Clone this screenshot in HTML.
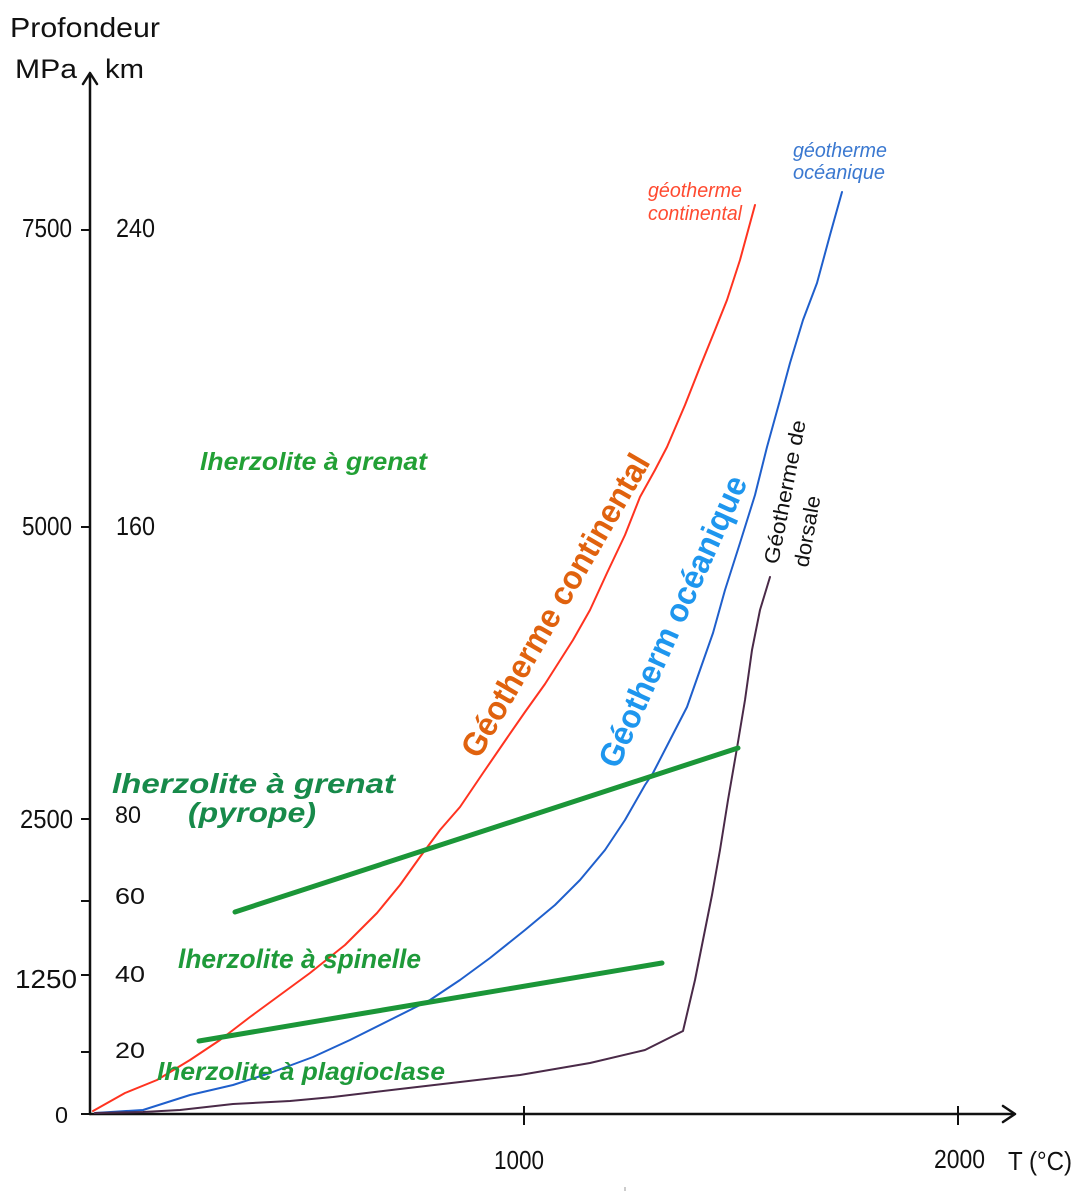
<!DOCTYPE html>
<html><head><meta charset="utf-8">
<style>
html,body{margin:0;padding:0;background:#fff;}
svg{display:block;}
text{font-family:"Liberation Sans",Arial,sans-serif;}
</style></head>
<body>
<svg width="1085" height="1200" viewBox="0 0 1085 1200" xmlns="http://www.w3.org/2000/svg">
<rect width="1085" height="1200" fill="#fff"/>

<!-- axes -->
<g stroke="#111" stroke-width="2.5" fill="none" stroke-linecap="round" stroke-linejoin="round">
  <line x1="90" y1="1114" x2="90" y2="74"/>
  <polyline points="83,84 90,73 97,84"/>
  <line x1="90" y1="1114" x2="1014" y2="1114"/>
  <polyline points="1003,1106 1015,1114 1003,1122"/>
</g>
<g stroke="#111" stroke-width="2" fill="none">
  <line x1="81" y1="230" x2="90" y2="230"/>
  <line x1="81" y1="527" x2="90" y2="527"/>
  <line x1="81" y1="819" x2="90" y2="819"/>
  <line x1="81" y1="901" x2="90" y2="901"/>
  <line x1="81" y1="975" x2="90" y2="975"/>
  <line x1="81" y1="1052" x2="90" y2="1052"/>
  <line x1="81" y1="1114" x2="90" y2="1114"/>
  <line x1="524" y1="1106" x2="524" y2="1125"/>
  <line x1="958" y1="1106" x2="958" y2="1125"/>
</g>

<!-- axis labels -->
<g fill="#111">
  <text x="10" y="37" font-size="28" textLength="150" lengthAdjust="spacingAndGlyphs">Profondeur</text>
  <text x="15" y="78" font-size="27" textLength="62" lengthAdjust="spacingAndGlyphs">MPa</text>
  <text x="105" y="78" font-size="27" textLength="39" lengthAdjust="spacingAndGlyphs">km</text>

  <text x="22" y="237" font-size="26" textLength="50" lengthAdjust="spacingAndGlyphs">7500</text>
  <text x="116" y="237" font-size="26" textLength="39" lengthAdjust="spacingAndGlyphs">240</text>
  <text x="22" y="535" font-size="26" textLength="50" lengthAdjust="spacingAndGlyphs">5000</text>
  <text x="116" y="535" font-size="26" textLength="39" lengthAdjust="spacingAndGlyphs">160</text>
  <text x="20" y="828" font-size="26" textLength="53" lengthAdjust="spacingAndGlyphs">2500</text>
  <text x="115" y="823" font-size="24" textLength="26" lengthAdjust="spacingAndGlyphs">80</text>
  <text x="115" y="904" font-size="23" textLength="30" lengthAdjust="spacingAndGlyphs">60</text>
  <text x="15" y="988" font-size="26" textLength="62" lengthAdjust="spacingAndGlyphs">1250</text>
  <text x="115" y="982" font-size="23" textLength="30" lengthAdjust="spacingAndGlyphs">40</text>
  <text x="115" y="1058" font-size="22" textLength="30" lengthAdjust="spacingAndGlyphs">20</text>
  <text x="55" y="1123" font-size="23" textLength="13" lengthAdjust="spacingAndGlyphs">0</text>

  <text x="494" y="1169" font-size="26" textLength="50" lengthAdjust="spacingAndGlyphs">1000</text>
  <text x="934" y="1168" font-size="26" textLength="51" lengthAdjust="spacingAndGlyphs">2000</text>
  <text x="1008" y="1170" font-size="26" textLength="64" lengthAdjust="spacingAndGlyphs">T (°C)</text>
</g>
<rect x="624" y="1187" width="2" height="4" fill="#ccc"/>

<!-- curves -->
<g fill="none" stroke-linecap="round" stroke-linejoin="round">
  <polyline stroke="#ff3320" stroke-width="2" points="93,1111 125,1093 157,1080 190,1060 220,1040 250,1017 280,995 310,973 345,945 377,913 400,885 420,857 440,830 460,807 483,773 507,738 525,712 545,684 573,640 590,610 607,573 625,535 640,497 655,470 667,447 685,405 700,367 715,330 727,300 740,260 755,205"/>
  <polyline stroke="#1f5fcc" stroke-width="2" points="95,1113 143,1110 190,1095 233,1085 270,1073 313,1057 350,1040 390,1020 430,1000 460,980 490,958 525,930 555,905 580,880 605,850 625,820 645,785 653,773 670,740 687,707 700,670 713,633 725,590 740,543 755,495 767,447 780,400 790,363 803,320 817,283 830,235 842,192"/>
  <polyline stroke="#4a2a48" stroke-width="2" points="95,1113 143,1112 180,1110 233,1104 290,1101 333,1097 400,1089 460,1082 520,1075 590,1063 645,1050 683,1031 695,980 705,930 712,895 720,850 728,800 737,748 745,700 752,650 760,610 770,577"/>
  <line stroke="#1b9638" stroke-width="5" x1="235" y1="912" x2="738" y2="748"/>
  <line stroke="#1b9638" stroke-width="5" x1="199" y1="1041" x2="662" y2="963"/>
</g>

<!-- small top labels -->
<g font-style="italic" font-size="20">
  <text x="648" y="197" fill="#ff4a30" textLength="94" lengthAdjust="spacingAndGlyphs">géotherme</text>
  <text x="648" y="220" fill="#ff4a30" textLength="94" lengthAdjust="spacingAndGlyphs">continental</text>
  <text x="793" y="157" fill="#3a78d0" textLength="94" lengthAdjust="spacingAndGlyphs">géotherme</text>
  <text x="793" y="179" fill="#3a78d0" textLength="92" lengthAdjust="spacingAndGlyphs">océanique</text>
</g>

<!-- rotated labels -->
<text transform="translate(479,760) rotate(-60)" font-size="33" font-weight="bold" fill="#e0620e" textLength="344" lengthAdjust="spacingAndGlyphs">Géotherme continental</text>
<text transform="translate(618,770) rotate(-65.7)" font-size="33" font-weight="bold" fill="#1e96ee" textLength="316" lengthAdjust="spacingAndGlyphs">Géotherm océanique</text>
<text transform="translate(778,565) rotate(-79)" font-size="21" fill="#111" textLength="146" lengthAdjust="spacingAndGlyphs">Géotherme de</text>
<text transform="translate(808,568) rotate(-80)" font-size="21" fill="#111" textLength="72" lengthAdjust="spacingAndGlyphs">dorsale</text>

<!-- green labels -->
<g font-style="italic" font-weight="bold">
  <text x="200" y="470" font-size="25" fill="#22a035" textLength="227" lengthAdjust="spacingAndGlyphs">lherzolite à grenat</text>
  <text x="112" y="793" font-size="28" fill="#178a4a" font-weight="900" textLength="283" lengthAdjust="spacingAndGlyphs">lherzolite à grenat</text>
  <text x="188" y="822" font-size="28" fill="#178a4a" font-weight="900" textLength="128" lengthAdjust="spacingAndGlyphs">(pyrope)</text>
  <text x="178" y="968" font-size="27" fill="#1f9a3a" textLength="243" lengthAdjust="spacingAndGlyphs">lherzolite à spinelle</text>
  <text x="157" y="1080" font-size="25" fill="#1f9a3a" textLength="288" lengthAdjust="spacingAndGlyphs">lherzolite à plagioclase</text>
</g>
</svg>
</body></html>
